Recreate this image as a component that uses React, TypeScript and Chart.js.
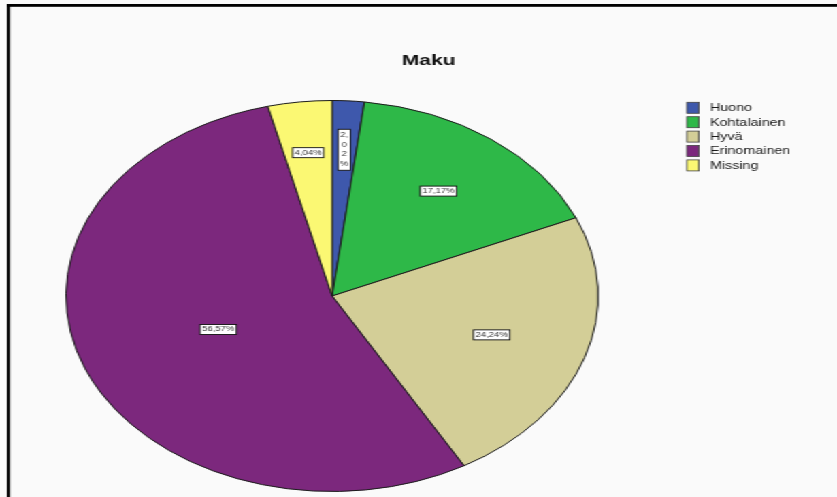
import React, { useEffect, useRef } from 'react';
import { Chart, registerables } from 'chart.js';

Chart.register(...registerables);

const TITLE = 'Maku';
const CATEGORIES = ['Huono', 'Kohtalainen', 'Hyvä', 'Erinomainen', 'Missing'];
const PERCENTS = [2.02, 17.17, 24.24, 56.57, 4.04];
const COLORS = ['#3E58AC', '#2EB848', '#D3CE97', '#7C287D', '#FBF873'];

const PAGE_W = 837;
const PAGE_H = 497;
const CANVAS_W = 615; // drawn narrower, then stretched horizontally like the reference image
const STRETCH = PAGE_W / CANVAS_W;
const FONT = '"Liberation Sans", Arial, sans-serif';

const fmt = (v: number) => v.toFixed(2).replace('.', ',') + '%';

const framePlugin = {
  id: 'frame',
  beforeDraw(chart: any) {
    const ctx = chart.ctx;
    ctx.save();
    ctx.fillStyle = '#fafafa';
    ctx.fillRect(0, 0, chart.width, chart.height);
    ctx.fillStyle = '#000';
    ctx.fillRect(5.1, 4, 2.2, chart.height - 4);
    ctx.fillRect(5.1, 4, chart.width, 2.8);
    // title
    ctx.fillStyle = '#111';
    ctx.font = `bold 15.5px ${FONT}`;
    ctx.textAlign = 'center';
    ctx.textBaseline = 'middle';
    ctx.fillText(TITLE, 315, 61);
    // legend
    ctx.font = `10.5px ${FONT}`;
    ctx.textAlign = 'left';
    CATEGORIES.forEach((c, i) => {
      const y = 107.8 + i * 14.4;
      ctx.fillStyle = COLORS[i];
      ctx.fillRect(504.8, y - 5.5, 8.8, 11);
      ctx.strokeStyle = '#444';
      ctx.lineWidth = 0.8;
      ctx.strokeRect(504.8, y - 5.5, 8.8, 11);
      ctx.fillStyle = '#1a1a1a';
      ctx.fillText(c, 521.7, y + 0.5);
    });
    ctx.restore();
  },
};

const labelPlugin = {
  id: 'sliceLabels',
  afterDatasetsDraw(chart: any) {
    const ctx = chart.ctx;
    const meta = chart.getDatasetMeta(0);
    ctx.save();
    ctx.font = `7px ${FONT}`;
    ctx.textBaseline = 'middle';
    ctx.textAlign = 'center';
    meta.data.forEach((arc: any, i: number) => {
      const p = arc.getProps(['x', 'y', 'startAngle', 'endAngle', 'outerRadius'], true);
      const span = p.endAngle - p.startAngle;
      const frac = span / (2 * Math.PI);
      const rf = 0.76 - 0.55 * frac;
      const mid = (p.startAngle + p.endAngle) / 2;
      const r = p.outerRadius * rf;
      const cx = p.x + Math.cos(mid) * r;
      const cy = p.y + Math.sin(mid) * r;
      const text = fmt(PERCENTS[i]);
      const tw = ctx.measureText(text).width;
      const chord = 2 * r * Math.sin(span / 2);
      let lines: string[] = [text];
      if (tw + 4 > chord) {
        lines = [];
        for (const ch of text) {
          if (ch === ',' && lines.length) lines[lines.length - 1] += ch;
          else lines.push(ch);
        }
      }
      const lh = lines.length > 1 ? 9.5 : 7;
      const bw = Math.max(...lines.map((l) => ctx.measureText(l).width)) + 3;
      const bh = lines.length * lh + 3;
      const bx = cx - bw / 2;
      const by = cy - bh / 2;
      ctx.fillStyle = '#ffffff';
      ctx.fillRect(bx, by, bw, bh);
      ctx.strokeStyle = '#111';
      ctx.lineWidth = 0.9;
      ctx.strokeRect(bx, by, bw, bh);
      ctx.fillStyle = '#333';
      lines.forEach((l, k) => {
        ctx.fillText(l, cx, by + 1.5 + lh * (k + 0.5));
      });
    });
    ctx.restore();
  },
};

export default function App() {
  const ref = useRef<HTMLCanvasElement | null>(null);
  useEffect(() => {
    if (!ref.current) return;
    const chart = new Chart(ref.current, {
      type: 'pie',
      data: {
        labels: CATEGORIES,
        datasets: [
          {
            data: PERCENTS,
            backgroundColor: COLORS,
            borderColor: '#1c1c1c',
            borderWidth: 1,
          },
        ],
      },
      options: {
        responsive: false,
        animation: false,
        events: [],
        layout: { padding: { left: 48, top: 100, right: CANVAS_W - 440, bottom: 5 } },
        plugins: {
          legend: { display: false },
          title: { display: false },
          tooltip: { enabled: false },
        },
      },
      plugins: [framePlugin, labelPlugin],
    });
    return () => chart.destroy();
  }, []);

  return (
    <div
      style={{
        position: 'fixed',
        left: 0,
        top: 0,
        width: CANVAS_W,
        height: PAGE_H,
        transform: `scaleX(${STRETCH})`,
        transformOrigin: '0 0',
        background: '#fafafa',
      }}
    >
      <canvas
        ref={ref}
        width={CANVAS_W}
        height={PAGE_H}
        style={{ width: CANVAS_W + 'px', height: PAGE_H + 'px', display: 'block' }}
      />
    </div>
  );
}
